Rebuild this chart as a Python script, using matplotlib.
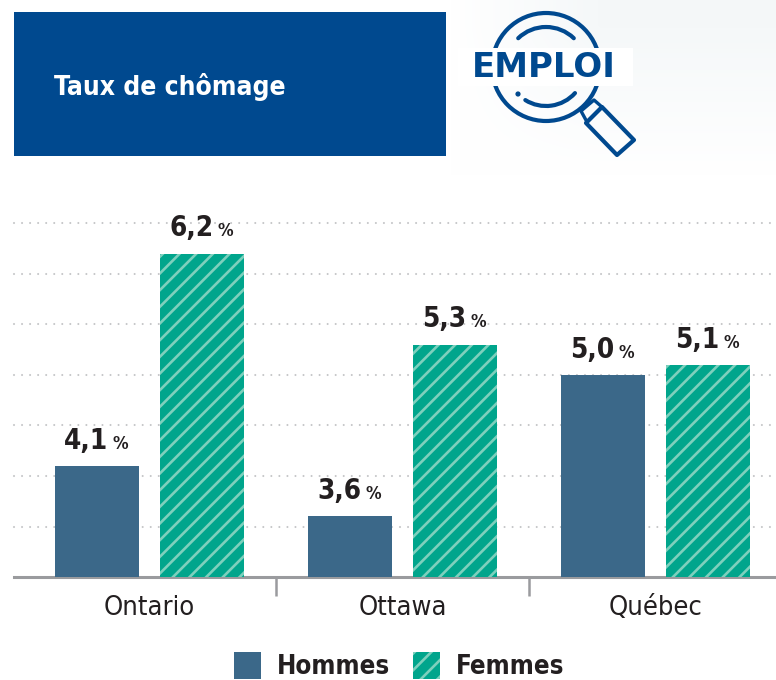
import numpy as np
import matplotlib
matplotlib.use('Agg')
import matplotlib.pyplot as plt
from matplotlib.patches import Rectangle, Circle, Arc, Polygon

# Данные
categories = ['Ontario', 'Ottawa', 'Québec']
hommes = [4.1, 3.6, 5.0]
femmes = [6.2, 5.3, 5.1]
grid_values = [3.5, 4.0, 4.5, 5.0, 5.5, 6.0, 6.5]
legend_labels = ['Hommes', 'Femmes']
title = 'Taux de chômage'
logo_text = 'EMPLOI'

BLUE = '#3b6889'
TEAL = '#00a58c'
HATCH = '#7dd0bd'
NAVY = '#00498f'
DARK = '#231f20'
GREY = '#9a9b9e'

plt.rcParams['hatch.linewidth'] = 1.9
plt.rcParams['font.family'] = 'DejaVu Sans'
plt.rcParams['font.stretch'] = 'condensed'

W, H = 776, 680
fig = plt.figure(figsize=(W / 100, H / 100), dpi=100, facecolor='white')

# Фон и оформление в пикселях
bg = fig.add_axes([0, 0, 1, 1], zorder=0)
yy, xx = np.mgrid[0:180, 440:776]
shade = np.clip((175 - yy) / 150, 0, 1) * np.clip((xx - 450) / 150, 0, 1)
tint = np.array([0.96, 0.972, 0.976])
rgb = 1 - shade[..., None] * (1 - tint)
bg.imshow(rgb, extent=(440, 776, 180, 0), aspect='auto', zorder=0)
bg.set_xlim(0, W)
bg.set_ylim(H, 0)
bg.axis('off')

bg.add_patch(Rectangle((14, 12), 432, 144, facecolor=NAVY, edgecolor='none', zorder=1))
bg.text(54, 95, title, color='white', fontsize=19, fontweight='bold', va='baseline',
        ha='left', zorder=2)

# Логотип с лупой
lw_logo = 3.0
bg.add_patch(Circle((546, 67), 54, fill=False, edgecolor=NAVY, lw=lw_logo, zorder=2))
bg.add_patch(Arc((546, 67), 80, 80, theta1=226, theta2=314, edgecolor=NAVY, lw=lw_logo,
                 capstyle='round', zorder=2))
bg.add_patch(Arc((546, 67), 78, 78, theta1=42, theta2=122, edgecolor=NAVY, lw=lw_logo,
                 capstyle='round', zorder=2))
bg.add_patch(Circle((518, 94), 2.6, facecolor=NAVY, edgecolor='none', zorder=2))
bg.add_patch(Polygon([(602, 107), (634, 140), (617, 155), (586, 123)], closed=True,
                     fill=False, edgecolor=NAVY, lw=lw_logo, joinstyle='round', zorder=2))
bg.add_patch(Polygon([(581, 111), (594, 100), (602, 107), (587, 122)], closed=True,
                     fill=False, edgecolor=NAVY, lw=2.4, joinstyle='round', zorder=2))
bg.add_patch(Rectangle((458, 48), 175, 38, facecolor='white', edgecolor='none', zorder=3))
bg.text(544, 67.5, logo_text, color=NAVY, fontsize=24.5, fontweight='bold', stretch='normal',
        ha='center', va='center', zorder=4)

# Легенда
bg.add_patch(Rectangle((234, 652), 27, 27, facecolor=BLUE, edgecolor='none', zorder=2))
bg.add_patch(Rectangle((413, 652), 27, 27, facecolor=TEAL, edgecolor=HATCH, hatch='//', lw=0,
                       zorder=2))
bg.text(277, 674, legend_labels[0], color=DARK, fontsize=18.5, fontweight='bold', va='baseline')
bg.text(456, 674, legend_labels[1], color=DARK, fontsize=18.5, fontweight='bold', va='baseline')

# Столбцы
ax = fig.add_axes([14 / W, (H - 577) / H, (W - 14) / W, (577 - 223.5) / H], zorder=1)
ax.patch.set_alpha(0)
x = np.arange(len(categories))
offset = 0.2075
width = 0.332
ax.bar(x - offset, hommes, width, color=BLUE, zorder=3)
ax.bar(x + offset, femmes, width, color=TEAL, edgecolor=HATCH, hatch='//', linewidth=0, zorder=3)

ax.set_xlim(-0.5356, 2.476)
ax.set_ylim(3, 6.5)
for v in grid_values:
    ax.axhline(v, color='#c4c5c7', lw=1.5, ls=(0, (0.01, 3.85)), dash_capstyle='round',
               zorder=1, clip_on=False)

for xs, values in ((x - offset, hommes), (x + offset, femmes)):
    for xv, val in zip(xs, values):
        label = f'{val:.1f}'.replace('.', ',')
        ax.annotate(label, (xv, val), xytext=(8, 12.5), textcoords='offset points', ha='right',
                    va='baseline', fontsize=20, fontweight='bold', color=DARK, zorder=5)
        ax.annotate('%', (xv, val), xytext=(10.8, 12.5), textcoords='offset points', ha='left',
                    va='baseline', fontsize=12.5, fontweight='bold', color=DARK, zorder=5)

for side in ('top', 'left', 'right'):
    ax.spines[side].set_visible(False)
ax.spines['bottom'].set_color(GREY)
ax.spines['bottom'].set_linewidth(2.2)
ax.set_yticks([])
ax.set_xticks(x)
ax.set_xticklabels(categories, fontsize=19.5, color=DARK)
ax.tick_params(axis='x', which='major', length=0, pad=13)
ax.set_xticks([0.5, 1.5], minor=True)
ax.tick_params(axis='x', which='minor', length=14, width=1.8, color=GREY)

fig.savefig('out.png', dpi=100)
